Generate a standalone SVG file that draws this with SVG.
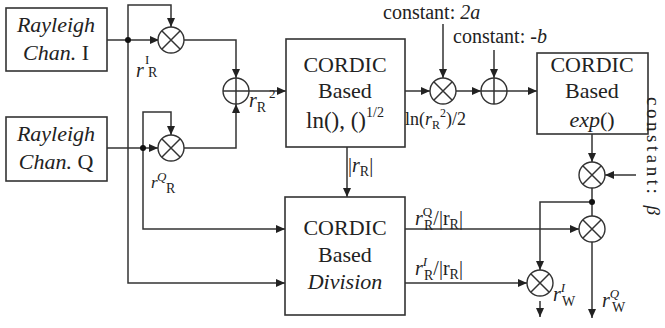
<svg xmlns="http://www.w3.org/2000/svg" width="665" height="328" viewBox="0 0 665 328">
<defs>
<marker id="ah" markerWidth="9" markerHeight="8" refX="9" refY="4" orient="auto" markerUnits="userSpaceOnUse">
<path d="M0,0 L9,4 L0,8 Z" fill="#222"/>
</marker>
<style>
.box{fill:#fff;stroke:#333;stroke-width:1.6}
.ln{fill:none;stroke:#333;stroke-width:1.5}
.arr{fill:none;stroke:#333;stroke-width:1.5;marker-end:url(#ah)}
.op{fill:#fff;stroke:#333;stroke-width:1.4}
.dot{fill:#111}
.bt{font-size:22px;text-anchor:middle}
.lb{font-size:20px}
.it{font-style:italic}
.s{font-size:14px}
.ss{font-size:13px}
</style>
</defs>
<rect width="665" height="328" fill="#fff"/>

<g id="connectors">
<path class="arr" d="M107,40 H159"/>
<path class="arr" d="M128,40 V5 H171 V27"/>
<path class="arr" d="M128,40 V283 H285"/>
<path class="arr" d="M107,148 H158"/>
<path class="arr" d="M143,148 V112 H171 V135"/>
<path class="arr" d="M143,148 V229 H285"/>
<path class="arr" d="M184,40 H236 V78"/>
<path class="arr" d="M184,148 H236 V104"/>
<path class="arr" d="M249,91 H286"/>
<path class="arr" d="M405,91 H430"/>
<path class="arr" d="M443,24 V78"/>
<path class="arr" d="M456,91 H481"/>
<path class="arr" d="M494,50 V78"/>
<path class="arr" d="M507,91 H537"/>
<path class="arr" d="M347,147 V197"/>
<path class="arr" d="M592,134 V162"/>
<path class="arr" d="M636,175 H605"/>
<path class="ln" d="M592,188 V216"/>
<path class="arr" d="M592,202 H540 V270"/>
<path class="arr" d="M405,229 H579"/>
<path class="arr" d="M405,283 H527"/>
<path class="arr" d="M592,242 V318"/>
<path class="arr" d="M540,301 V317"/>
<circle class="dot" cx="128" cy="40" r="3"/>
<circle class="dot" cx="143" cy="148" r="3"/>
<circle class="dot" cx="592" cy="202" r="3"/>
</g>

<g font-family="'Liberation Serif', 'DejaVu Serif', serif" fill="#222">
<g id="rayleigh-i">
<rect class="box" x="6" y="8" width="101" height="63"/>
<text class="bt it" x="56" y="32">Rayleigh</text>
<text class="bt" x="56" y="60"><tspan class="it">Chan.</tspan> I</text>
</g>

<g id="rayleigh-q">
<rect class="box" x="6" y="117" width="101" height="64"/>
<text class="bt it" x="56" y="141">Rayleigh</text>
<text class="bt" x="56" y="169"><tspan class="it">Chan.</tspan> Q</text>
</g>

<g id="mult-i">
<circle class="op" cx="171" cy="40" r="13"/>
<path class="ln" d="M162,31 L180,49 M180,31 L162,49"/>
</g>
<g id="mult-q">
<circle class="op" cx="171" cy="148" r="13"/>
<path class="ln" d="M162,139 L180,157 M180,139 L162,157"/>
</g>
<g id="adder-r2">
<circle class="op" cx="236" cy="91" r="13"/>
<path class="ln" d="M223,91 H249 M236,78 V104"/>
</g>

<g id="cordic-ln">
<rect class="box" x="286" y="39" width="119" height="108"/>
<text class="bt" x="345" y="72">CORDIC</text>
<text class="bt" x="345" y="98">Based</text>
<text x="306" y="128" font-size="23">ln(), ()<tspan font-size="14" dy="-11">1/2</tspan></text>
</g>

<g id="mult-2a">
<circle class="op" cx="443" cy="91" r="13"/>
<path class="ln" d="M434,82 L452,100 M452,82 L434,100"/>
</g>
<g id="adder-b">
<circle class="op" cx="494" cy="91" r="13"/>
<path class="ln" d="M481,91 H507 M494,78 V104"/>
</g>

<g id="cordic-exp">
<rect class="box" x="537" y="53" width="111" height="81"/>
<text class="bt" x="592" y="72">CORDIC</text>
<text class="bt" x="592" y="98">Based</text>
<text class="bt it" x="592" y="127">exp<tspan font-style="normal">()</tspan></text>
</g>

<g id="mult-beta">
<circle class="op" cx="592" cy="175" r="13"/>
<path class="ln" d="M583,166 L601,184 M601,166 L583,184"/>
</g>
<g id="mult-qw">
<circle class="op" cx="592" cy="229" r="13"/>
<path class="ln" d="M583,220 L601,238 M601,220 L583,238"/>
</g>
<g id="mult-iw">
<circle class="op" cx="540" cy="283" r="13"/>
<path class="ln" d="M531,274 L549,292 M549,274 L531,292"/>
</g>

<g id="cordic-div">
<rect class="box" x="285" y="197" width="120" height="118"/>
<text class="bt" x="345" y="235">CORDIC</text>
<text class="bt" x="345" y="262">Based</text>
<text class="bt it" x="345" y="289">Division</text>
</g>

<g id="labels">
<text class="lb" x="383" y="19">constant: <tspan class="it">2a</tspan></text>
<text class="lb" x="453" y="43">constant: <tspan class="it">-b</tspan></text>
<text font-size="19" transform="translate(647,97) rotate(90)" textLength="118" lengthAdjust="spacing">constant: <tspan class="it">β</tspan></text>

<text class="lb it" x="136" y="77">r<tspan class="ss" font-style="normal" x="145" y="64">I</tspan><tspan class="s" font-style="normal" x="148" y="77">R</tspan></text>
<text class="it" font-size="17" x="151" y="188">r<tspan class="ss" x="157" y="181">Q</tspan><tspan class="s" font-style="normal" x="166" y="193">R</tspan></text>
<text class="lb it" x="249" y="107">r<tspan class="s" font-style="normal" y="112">R</tspan><tspan class="ss" font-style="normal" x="269" y="98">2</tspan></text>
<text class="lb" x="348" y="172">|<tspan class="it">r</tspan><tspan class="s" y="176">R</tspan><tspan y="172">|</tspan></text>
<text font-size="18" x="405" y="125">ln(<tspan class="it">r</tspan><tspan font-size="12" y="129">R</tspan><tspan font-size="12" y="117">2</tspan><tspan y="125">)/2</tspan></text>

<text class="lb" x="415" y="225"><tspan class="it">r</tspan><tspan class="ss" y="216">Q</tspan><tspan class="s" x="424" y="230">R</tspan><tspan y="225">/|r</tspan><tspan class="s" y="229">R</tspan><tspan y="225">|</tspan></text>
<text class="lb" x="415" y="275"><tspan class="it">r</tspan><tspan class="ss it" y="266">I</tspan><tspan class="s" x="424" y="280">R</tspan><tspan y="275">/|r</tspan><tspan class="s" y="279">R</tspan><tspan y="275">|</tspan></text>
<text class="lb it" x="553" y="301">r<tspan class="ss" y="292">I</tspan><tspan class="s" font-style="normal" x="562" y="306">W</tspan></text>
<text class="lb it" x="602" y="307">r<tspan class="ss" y="298">Q</tspan><tspan class="s" font-style="normal" x="612" y="312">W</tspan></text>
</g>
</g>
</svg>
